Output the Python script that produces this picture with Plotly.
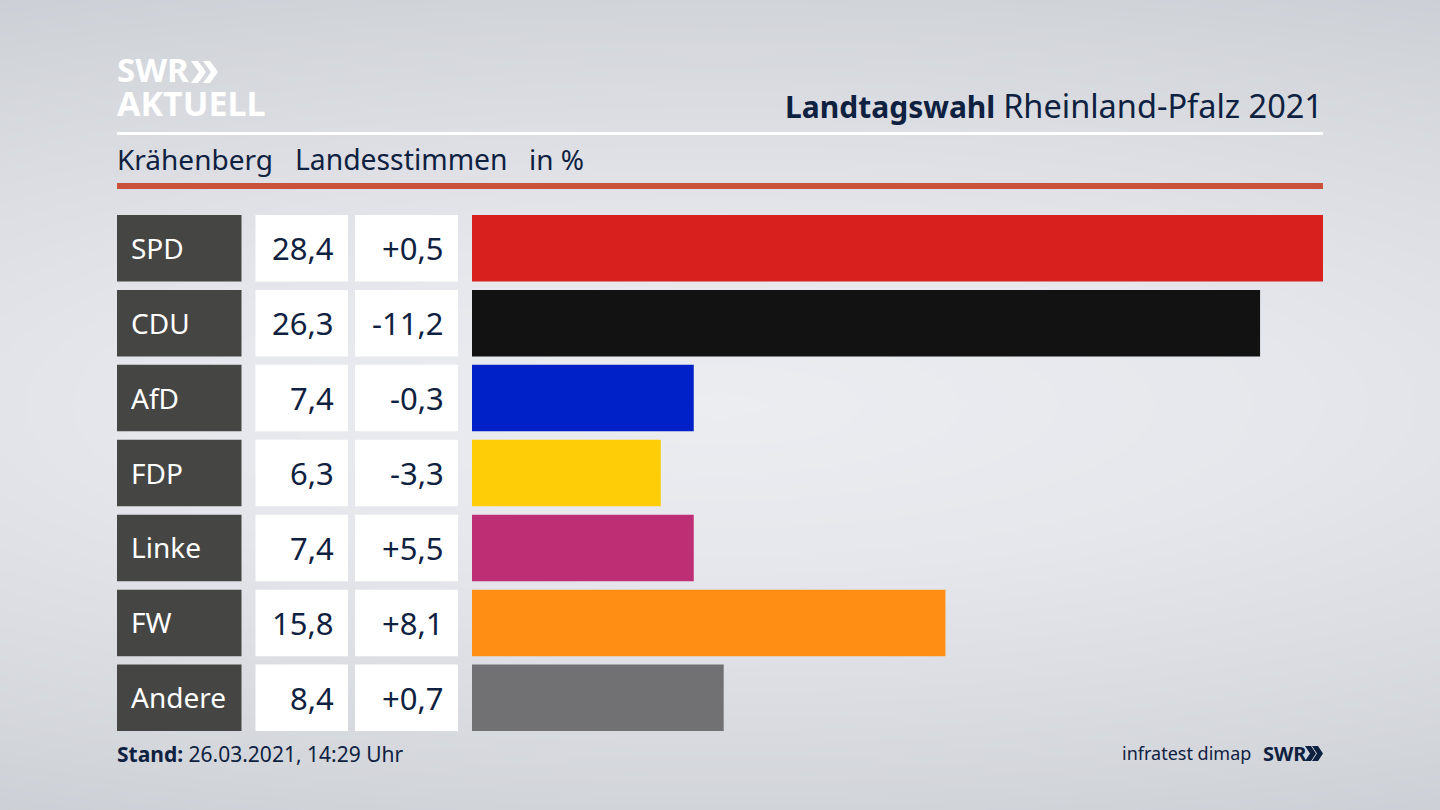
import numpy as np
import plotly.graph_objects as go

parties = ["SPD", "CDU", "AfD", "FDP", "Linke", "FW", "Andere"]
values = [28.4, 26.3, 7.4, 6.3, 7.4, 15.8, 8.4]
changes = ["+0,5", "-11,2", "-0,3", "-3,3", "+5,5", "+8,1", "+0,7"]
colors = ["#d8201f", "#121212", "#0021c8", "#ffcd07", "#bd2e74", "#ff8e14", "#717173"]

W, H = 1440, 810
FONT = "Noto Sans"
NAVY = "#0f2140"
def px(x): return x / W
def py(y): return 1 - y / H

# background glow (style only)
gx = np.linspace(0, 1, 65)
gy = np.linspace(0, 1, 37)
X, Y = np.meshgrid(gx, gy)
D = np.clip(np.sqrt(((X - .5) / 1.0) ** 2 + ((Y - .5) / .5) ** 2), 0, 1.15)

fig = go.Figure()
fig.add_trace(go.Heatmap(x=gx, y=gy, z=D, zmin=0, zmax=1.15, zsmooth="best", showscale=False,
                         hoverinfo="skip", xaxis="x", yaxis="y",
                         colorscale=[[0, "#ecedf1"], [.35, "#e6e7ec"], [.85, "#d2d5da"], [1, "#cbced4"]]))
fig.add_trace(go.Bar(y=parties, x=values, orientation="h", marker=dict(color=colors, line_width=0),
                     xaxis="x2", yaxis="y2", hoverinfo="skip", showlegend=False))

shapes, ann = [], []
def rect(x0, y0, x1, y1, c):
    shapes.append(dict(type="rect", xref="paper", yref="paper", x0=px(x0), x1=px(x1), y0=py(y0), y1=py(y1),
                       fillcolor=c, line_width=0, layer="above"))
def text(x, y, s, size, color=NAVY, anchor="left"):
    ann.append(dict(xref="paper", yref="paper", x=px(x), y=py(y), text=s, showarrow=False, xanchor=anchor,
                    yanchor="middle", font=dict(family=FONT, size=size, color=color), borderpad=0, borderwidth=0))
def chevrons(x, y, h, w, gap, t, c):
    for k in range(2):
        x0 = x + k * gap
        pts = [(x0, y), (x0 + t, y), (x0 + t + w, y + h / 2), (x0 + t, y + h), (x0, y + h), (x0 + w, y + h / 2)]
        p = "M " + " L ".join(f"{px(a):.5f},{py(b):.5f}" for a, b in pts) + " Z"
        shapes.append(dict(type="path", xref="paper", yref="paper", path=p, fillcolor=c, line_width=0, layer="above"))

rect(117, 132, 1323, 135, "#ffffff")
rect(117, 183, 1323, 189, "#c9523a")

TOP, PITCH = 215, 74.93
for i, p in enumerate(parties):
    y0 = TOP + i * PITCH
    y1 = y0 + 66.5
    cy = (y0 + y1) / 2
    rect(117, y0, 241.5, y1, "#454543")
    rect(255.5, y0, 348, y1, "#ffffff")
    rect(355, y0, 458, y1, "#ffffff")
    text(131, cy - 0.5, p, 28, "#ffffff")
    text(333.7, cy, f"{values[i]:.1f}".replace(".", ","), 31, NAVY, "right")
    text(443.7, cy, changes[i], 31, NAVY, "right")

text(117, 159.5, "Krähenberg", 28)
text(295, 159.5, "Landesstimmen", 28.3)
text(529, 159.5, "in %", 28)
text(1323, 105, '<b>Landtagswahl</b> <span style="font-size:32.5px">Rheinland-Pfalz 2021</span>', 30, NAVY, "right")
text(117, 754, "<b>Stand:</b> 26.03.2021, 14:29 Uhr", 21)
text(1251, 753, "infratest dimap", 18, NAVY, "right")
text(1263, 753, "<b>SWR</b>", 20)
chevrons(1305, 746, 15, 5, 7, 6, NAVY)
text(117, 70, "<b>SWR</b>", 33, "#ffffff")
text(117, 103.5, "<b>AKTUELL</b>", 34, "#ffffff")
chevrons(191, 61, 22, 8, 12, 7, "#ffffff")

t = 215 + 33.25 - PITCH / 2
b = t + 7 * PITCH
fig.update_layout(
    width=W, height=H, autosize=False, margin=dict(l=0, r=0, t=0, b=0),
    paper_bgcolor="#dfe1e6", plot_bgcolor="rgba(0,0,0,0)", showlegend=False,
    shapes=shapes, annotations=ann, bargap=1 - 66.5 / PITCH,
    xaxis=dict(domain=[0, 1], range=[0, 1], visible=False, fixedrange=True),
    yaxis=dict(domain=[0, 1], range=[1, 0], visible=False, fixedrange=True),
    xaxis2=dict(domain=[px(472), px(1323)], range=[0, 28.4], visible=False, anchor="y2", fixedrange=True),
    yaxis2=dict(domain=[py(b), py(t)], categoryorder="array", categoryarray=parties, autorange="reversed",
                visible=False, anchor="x2", fixedrange=True),
)
fig.write_html("out.html", config={"displayModeBar": False},
               post_script="document.documentElement.style.margin='0';document.body.style.margin='0';document.body.style.overflow='hidden';")
